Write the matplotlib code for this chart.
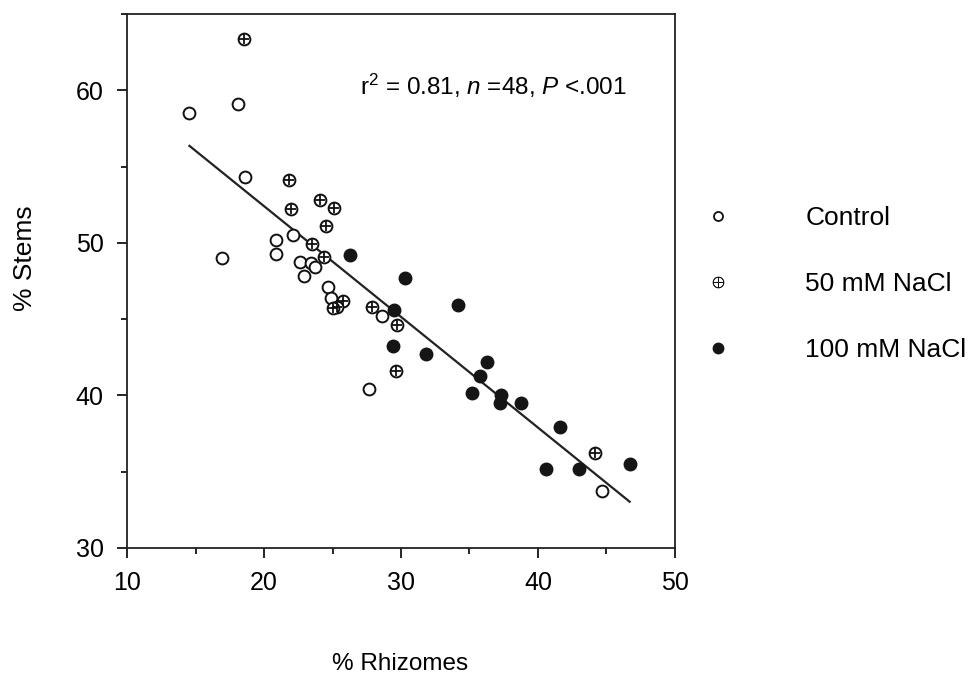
import matplotlib
matplotlib.use('Agg')
import matplotlib.pyplot as plt
import numpy as np
from matplotlib.ticker import MultipleLocator
from matplotlib.lines import Line2D

plt.rcParams['font.family'] = ['Liberation Sans', 'DejaVu Sans']
plt.rcParams['mathtext.fontset'] = 'custom'
plt.rcParams['mathtext.rm'] = 'Liberation Sans'
plt.rcParams['mathtext.it'] = 'Liberation Sans:italic'

# % rhizomes (x) vs % stems (y)
control_x = [14.55, 18.1, 18.6, 16.9, 20.9, 20.9, 22.1, 22.6, 23.4, 23.7, 22.9, 24.65, 24.9, 28.6, 27.7, 44.7]
control_y = [58.55, 59.1, 54.3, 49.0, 50.2, 49.3, 50.5, 48.75, 48.7, 48.4, 47.8, 47.1, 46.4, 45.2, 40.4, 33.7]

nacl50_x = [18.56, 21.8, 22.0, 24.1, 25.1, 24.5, 23.5, 24.4, 25.8, 25.3, 25.0, 27.9, 29.7, 29.6, 44.2]
nacl50_y = [63.4, 54.1, 52.2, 52.8, 52.3, 51.1, 49.9, 49.1, 46.2, 45.8, 45.7, 45.8, 44.6, 41.6, 36.2]

nacl100_x = [26.25, 30.3, 34.2, 29.5, 29.4, 31.8, 36.3, 35.8, 35.2, 37.3, 37.2, 38.8, 41.6, 46.7, 40.6, 43.0]
nacl100_y = [49.2, 47.7, 45.9, 45.6, 43.25, 42.7, 42.2, 41.3, 40.15, 40.0, 39.5, 39.5, 37.9, 35.5, 35.15, 35.2]

# regression line as printed
fit_slope = -0.726
fit_intercept = 66.93

labels = ['Control', '50 mM NaCl', '100 mM NaCl']

fig = plt.figure(figsize=(9.78, 6.78), dpi=100)
ax = fig.add_axes([0.130, 0.192, 0.560, 0.787])

all_x = np.array(control_x + nacl50_x + nacl100_x)
lx = np.array([all_x.min(), all_x.max()])
ax.plot(lx, fit_intercept + fit_slope * lx, color='#222222', lw=1.6, zorder=1)

ms = 8.5
ax.plot(control_x, control_y, 'o', ms=ms, mfc='white', mec='#111111', mew=1.4, ls='none', zorder=2)
ax.plot(nacl50_x, nacl50_y, 'o', ms=ms, mfc='white', mec='#111111', mew=1.4, ls='none', zorder=3)
ax.plot(nacl50_x, nacl50_y, '+', ms=ms - 1.5, mec='#111111', mew=1.3, ls='none', zorder=4)
ax.plot(nacl100_x, nacl100_y, 'o', ms=ms + 0.5, mfc='#151515', mec='#151515', mew=1.0, ls='none', zorder=3)

ax.set_xlim(10, 50)
ax.set_ylim(30, 65)
ax.xaxis.set_major_locator(MultipleLocator(10))
ax.xaxis.set_minor_locator(MultipleLocator(5))
ax.set_yticks([30, 40, 50, 60])
ax.yaxis.set_minor_locator(MultipleLocator(5))
ax.tick_params(which='major', direction='out', length=7, width=1.2, labelsize=18, pad=10)
ax.tick_params(which='minor', direction='out', length=4, width=1.2)
for s in ax.spines.values():
    s.set_linewidth(1.3)
    s.set_color('#222222')

ax.set_xlabel('% Rhizomes', fontsize=17.5)
ax.set_ylabel('% Stems', fontsize=19)
ax.xaxis.set_label_coords(0.498, -0.197)
ax.yaxis.set_label_coords(-0.186, 0.543)
ax.yaxis.label.set_va('center')

ax.text(0.425, 0.865, r'r$^2$ = 0.81, $n$ =48, $P$ <.001', transform=ax.transAxes,
        fontsize=17.5, ha='left', va='center')

handles = [
    Line2D([], [], marker='o', ls='none', ms=6.5, mfc='white', mec='#111111', mew=1.3),
    Line2D([], [], marker='$\\oplus$', ls='none', ms=8, mfc='#111111', mec='#111111', mew=0.4),
    Line2D([], [], marker='o', ls='none', ms=7.5, mfc='#151515', mec='#151515'),
]
fig.legend(handles, labels, loc='center left', bbox_to_anchor=(0.696, 0.581), frameon=False,
           fontsize=19, handletextpad=2.82, labelspacing=1.6, handlelength=1.0)

fig.savefig('out.png', dpi=100)
